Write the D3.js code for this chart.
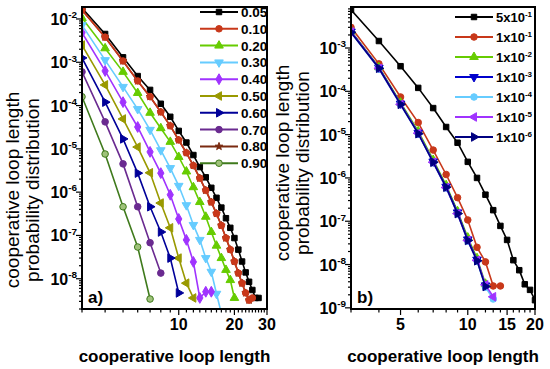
<!DOCTYPE html>
<html>
<head>
<meta charset="utf-8">
<script src="https://cdn.jsdelivr.net/npm/d3@7"></script>
<style>
  body { margin: 0; background: #fff; }
  svg { display: block; font-family: Arial, "Liberation Sans", sans-serif; }
</style>
</head>
<body>
<svg id="chart" width="550" height="369"></svg>
<script>
// ---- data, panel a) : probability vs loop length, one array per series (n = 3, 4, 5, ...)
const labelsA = ["0.05", "0.10", "0.20", "0.30", "0.40", "0.50", "0.60", "0.70", "0.80", "0.90"];
const pA005 = [1.8e-2, 4.5e-3, 1.3e-3, 4.8e-4, 2.3e-4, 1.1e-4, 5.5e-5, 2.6e-5, 1.4e-5, 7.2e-6, 3.8e-6, 2.2e-6, 1.26e-6,
               7.4e-7, 4.4e-7, 2.5e-7, 1.5e-7, 8.7e-8, 4.7e-8, 2.5e-8, 1.4e-8, 8.5e-9, 5.5e-9, 3.6e-9, 3.6e-9];
const pA010 = [1.6e-2, 3.8e-3, 1.07e-3, 3.7e-4, 1.6e-4, 7.1e-5, 3.4e-5, 1.6e-5, 8.1e-6, 4.1e-6, 2.1e-6, 1.1e-6, 5.9e-7,
               3.2e-7, 1.7e-7, 8.7e-8, 4.7e-8, 2.5e-8, 1.35e-8, 7.9e-9, 4.7e-9, 3.2e-9, 3.6e-9];
const pA020 = [1.05e-2, 2.1e-3, 6.0e-4, 1.95e-4, 6.8e-5, 3.0e-5, 1.45e-5, 6.5e-6, 3.0e-6, 1.3e-6, 5.9e-7, 2.7e-7,
               1.2e-7, 5.8e-8, 3.0e-8, 1.6e-8, 9.3e-9, 3.6e-9];
const pA030 = [7.2e-3, 1.12e-3, 2.7e-4, 8.3e-5, 2.75e-5, 9.3e-6, 3.6e-6, 1.4e-6, 5.0e-7, 1.75e-7, 7.9e-8, 3.0e-8,
               1.45e-8, 4.5e-9, 1.6e-9];
const pA040 = [4.8e-3, 6.3e-4, 1.2e-4, 3.2e-5, 8.5e-6, 2.75e-6, 8.7e-7, 2.4e-7, 7.9e-8, 2.45e-8, 3.6e-9, 5.0e-9, 5.0e-9];
const pA050 = [2.5e-3, 3.0e-4, 4.9e-5, 1.1e-5, 2.8e-6, 5.6e-7, 1.5e-7, 3.0e-8, 7.9e-9, 3.6e-9];
const pA060 = [1.26e-3, 1.2e-4, 1.7e-5, 2.75e-6, 4.6e-7, 1.2e-7, 3.0e-8, 4.7e-9];
const pA070 = [6.0e-4, 4.2e-5, 4.5e-6, 4.6e-7, 6.8e-8, 1.35e-8];
const pA080 = [1.6e-2, 3.8e-3, 1.07e-3, 3.7e-4, 1.6e-4, 7.1e-5, 3.4e-5, 1.6e-5, 8.1e-6, 4.1e-6, 2.1e-6, 1.1e-6,
               5.9e-7, 3.2e-7, 1.7e-7, 8.7e-8, 4.7e-8, 2.5e-8, 1.35e-8, 7.9e-9, 4.7e-9, 3.2e-9];
const pA090 = [1.6e-4, 7.6e-6, 4.6e-7, 5.4e-8, 3.4e-9];
const ticksA = [10, 20, 30];

// ---- data, panel b)
const labelsB = [["5", "-1"], ["1", "-1"], ["1", "-2"], ["1", "-3"], ["1", "-4"], ["1", "-5"], ["1", "-6"]];
const pB5e1 = [7.6e-3, 1.45e-3, 3.8e-4, 1.2e-4, 4.1e-5, 1.5e-5, 6.5e-6, 2.35e-6, 1.0e-6, 4.1e-7, 1.8e-7, 7.8e-8,
               3.7e-8, 1.26e-8, 7.4e-9, 3.5e-9, 2.6e-9, 1.5e-9];
const pB1e1 = [3.0e-3, 4.3e-4, 7.4e-5, 1.9e-5, 4.4e-6, 1.2e-6, 3.5e-7, 1.07e-7, 2.5e-8, 1.15e-8, 3.2e-9, 3.2e-9];
const pB1e2 = [2.45e-3, 3.6e-4, 5.5e-5, 1.2e-5, 2.6e-6, 6.8e-7, 1.7e-7, 4.2e-8, 1.4e-8, 3.6e-9];
const pB1e3 = [2.4e-3, 3.5e-4, 5.2e-5, 1.1e-5, 2.4e-6, 6.3e-7, 1.6e-7, 3.8e-8, 1.3e-8, 3.3e-9];
const pB1e4 = [2.3e-3, 3.3e-4, 4.9e-5, 1.05e-5, 2.25e-6, 5.9e-7, 1.5e-7, 3.5e-8, 1.2e-8, 3.0e-9, 1.6e-9];
const pB1e5 = [2.35e-3, 3.4e-4, 5.0e-5, 1.08e-5, 2.3e-6, 6.0e-7, 1.5e-7, 3.6e-8, 1.25e-8, 3.4e-9, 1.8e-9];
const pB1e6 = [2.3e-3, 3.4e-4, 5.0e-5, 1.05e-5, 2.3e-6, 6.1e-7, 1.5e-7, 3.6e-8, 1.22e-8, 3.1e-9];
const ticksB = [5, 10, 15, 20];
const firstLength = 3;

// ---- styles
const colorsA = ["#000000", "#c8381a", "#66cc00", "#66ccff", "#a033ff", "#999900", "#000099", "#6a2a90", "#7a2a10", "#3f7a1c"];
const shapesA = ["square", "circle", "up", "down", "diamond", "left", "right", "circle", "star", "half"];
const colorsB = ["#000000", "#c8381a", "#66cc00", "#0000cc", "#66ccff", "#a033ff", "#000080"];
const shapesB = ["square", "circle", "up", "down", "circle", "left", "right"];

const svg = d3.select("#chart");

function marker(sel, shape, color) {
  const sym = {
    square: [d3.symbolSquare, 30, 0], circle: [d3.symbolCircle, 34, 0], half: [d3.symbolCircle, 34, 0],
    up: [d3.symbolTriangle, 32, 0], down: [d3.symbolTriangle, 32, 180], left: [d3.symbolTriangle, 32, -90],
    right: [d3.symbolTriangle, 32, 90], diamond: [d3.symbolDiamond, 34, 0], star: [d3.symbolStar, 18, 0]
  }[shape];
  sel.append("path")
    .attr("d", d3.symbol().type(sym[0]).size(sym[1]))
    .attr("transform", d => `translate(${d[0]},${d[1]}) rotate(${sym[2]})`)
    .attr("fill", shape === "half" ? "#9fc27a" : color)
    .attr("stroke", color)
    .attr("stroke-width", 1);
}

function supText(g, x, y, base, exp, anchor, size) {
  const t = g.append("text").attr("x", x).attr("y", y).attr("text-anchor", anchor)
    .attr("font-weight", "bold").attr("font-size", size);
  t.append("tspan").text(base);
  t.append("tspan").attr("dy", -size * 0.42).attr("font-size", size * 0.62).text(exp);
  return t;
}

function isDecade(v) {
  return Math.abs(Math.log10(v) - Math.round(Math.log10(v))) < 1e-6;
}

function drawPanel(cfg) {
  const x = d3.scaleLog().domain(cfg.xDomain).range([cfg.left, cfg.right]);
  const y = d3.scaleLog().domain(cfg.yDomain).range([cfg.bottom, cfg.top]);
  const g = svg.append("g");

  g.append("clipPath").attr("id", cfg.id + "clip").append("rect")
    .attr("x", cfg.left).attr("y", cfg.top).attr("width", cfg.right - cfg.left).attr("height", cfg.bottom - cfg.top);

  // y ticks
  const yMinor = y.ticks(60).filter(v => y(v) <= cfg.bottom + 0.5 && y(v) >= cfg.top);
  g.selectAll(".ym").data(yMinor).join("line")
    .attr("x1", cfg.left).attr("x2", v => cfg.left - (isDecade(v) ? 6 : 3))
    .attr("y1", v => y(v)).attr("y2", v => y(v)).attr("stroke", "#000").attr("stroke-width", 1.2);
  yMinor.filter(isDecade).forEach(v => {
    supText(g, cfg.left - 5, y(v) + 6, "10", String(Math.round(Math.log10(v))), "end", 16);
  });

  // x ticks
  const xMinor = d3.range(3, cfg.xDomain[1] + 1).filter(v => x(v) <= cfg.right + 0.5);
  g.selectAll(".xm").data(xMinor).join("line")
    .attr("x1", v => x(v)).attr("x2", v => x(v)).attr("y1", cfg.bottom)
    .attr("y2", v => cfg.bottom + (cfg.xTicks.includes(v) ? 6 : 3.5))
    .attr("stroke", "#000").attr("stroke-width", 1.2);
  g.selectAll(".xl").data(cfg.xTicks).join("text")
    .attr("x", v => x(v)).attr("y", cfg.bottom + 21).attr("text-anchor", "middle")
    .attr("font-weight", "bold").attr("font-size", 16).text(v => v);

  // series
  const plot = g.append("g").attr("clip-path", `url(#${cfg.id}clip)`);
  const line = d3.line().x(d => d[0]).y(d => d[1]);
  cfg.order.forEach(i => {
    const pts = cfg.series[i].map((p, k) => [x(firstLength + k), y(p)]);
    plot.append("path").attr("d", line(pts)).attr("fill", "none")
      .attr("stroke", cfg.colors[i]).attr("stroke-width", 1.6);
    marker(plot.append("g").selectAll("g").data(pts).join("g"), cfg.shapes[i], cfg.colors[i]);
  });

  // frame
  g.append("rect").attr("x", cfg.left).attr("y", cfg.top)
    .attr("width", cfg.right - cfg.left).attr("height", cfg.bottom - cfg.top)
    .attr("fill", "none").attr("stroke", "#000").attr("stroke-width", 2);

  // legend
  cfg.series.forEach((s, i) => {
    const ly = cfg.legY + i * cfg.legDy;
    g.append("line").attr("x1", cfg.legX).attr("x2", cfg.legX + 38).attr("y1", ly).attr("y2", ly)
      .attr("stroke", cfg.colors[i]).attr("stroke-width", 2);
    marker(g.append("g").selectAll("g").data([[cfg.legX + 19, ly]]).join("g"), cfg.shapes[i], cfg.colors[i]);
    const lab = cfg.labels[i];
    if (Array.isArray(lab)) supText(g, cfg.legX + 41, ly + 5, lab[0] + "x10", lab[1], "start", 13);
    else g.append("text").attr("x", cfg.legX + 41).attr("y", ly + 5).attr("font-weight", "bold")
      .attr("font-size", 13.5).text(lab);
  });

  // panel tag and titles
  g.append("text").attr("x", cfg.left + 6).attr("y", cfg.bottom - 6).attr("font-weight", "bold")
    .attr("font-size", 17).text(cfg.tag);
  g.append("text").attr("x", (cfg.left + cfg.right) / 2).attr("y", cfg.bottom + 53)
    .attr("text-anchor", "middle").attr("font-weight", "bold").attr("font-size", 17)
    .text("cooperative loop length");
  const ty = g.append("text").attr("transform", `translate(${cfg.titleX},${cfg.titleY}) rotate(-90)`)
    .attr("text-anchor", "middle").attr("font-size", 19);
  ty.append("tspan").attr("x", 0).attr("y", 0).text("cooperative loop length");
  ty.append("tspan").attr("x", 0).attr("y", 20).text("probability distribution");
}

drawPanel({
  id: "a", left: 82, right: 267, top: 7, bottom: 309,
  xDomain: [3, 30], yDomain: [2.0e-9, 1.89e-2], xTicks: ticksA,
  series: [pA005, pA010, pA020, pA030, pA040, pA050, pA060, pA070, pA080, pA090],
  order: [8, 0, 1, 2, 3, 4, 5, 6, 7, 9],
  labels: labelsA, colors: colorsA, shapes: shapesA,
  legX: 200, legY: 12, legDy: 16.8, tag: "a)", titleX: 19, titleY: 190
});

drawPanel({
  id: "b", left: 351, right: 535, top: 7, bottom: 309,
  xDomain: [3, 20], yDomain: [9.4e-10, 8.85e-3], xTicks: ticksB,
  series: [pB5e1, pB1e1, pB1e2, pB1e3, pB1e4, pB1e5, pB1e6],
  order: [0, 1, 2, 3, 4, 5, 6],
  labels: labelsB, colors: colorsB, shapes: shapesB,
  legX: 455, legY: 17, legDy: 20, tag: "b)", titleX: 289, titleY: 163
});
</script>
</body>
</html>
